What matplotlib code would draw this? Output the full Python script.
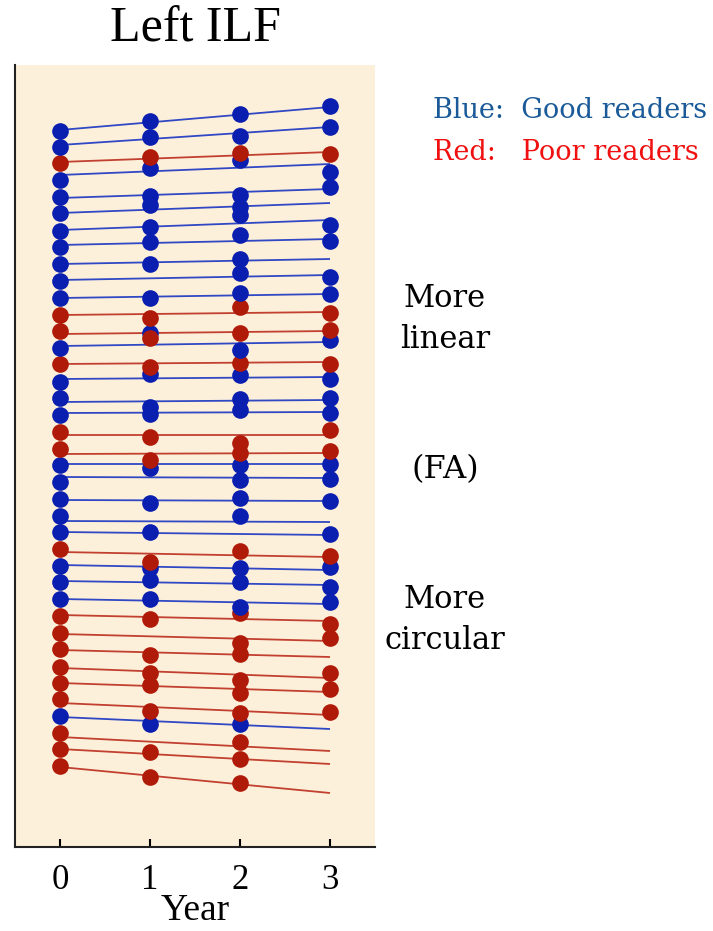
import matplotlib
matplotlib.use('Agg')
import matplotlib.pyplot as plt
import numpy as np

# ---- data (arbitrary FA units; no y ticks in source) ----
years = [0, 1, 2, 3]
year_labels = ['0', '1', '2', '3']
N = None
group = ['good', 'good', 'poor', 'good', 'good', 'good', 'good', 'good', 'good', 'good',
         'good', 'poor', 'poor', 'good', 'poor', 'good', 'good', 'good', 'poor', 'poor',
         'good', 'good', 'good', 'good', 'good', 'poor', 'good', 'good', 'good', 'poor',
         'poor', 'poor', 'poor', 'poor', 'poor', 'good', 'poor', 'poor', 'poor']
fa_year0 = [716, 700, 684, 667, 650, 634, 616, 600, 583, 566,
            549, 532, 516, 499, 483, 465, 449, 432, 415, 398,
            382, 365, 348, 331, 315, 298, 281, 265, 248, 231,
            214, 198, 180, 164, 148, 131, 114, 98, 81]
fa_year1 = [726, 710, 690, 679, 651, 642, 620, 605, 583, N,
            549, 529, 509, 514, 480, 473, 440, 433, 410, 387,
            379, N, 344, N, 315, 285, 279, 267, 248, 228,
            N, 192, 174, 162, 136, 123, N, 95, 70]
fa_year2 = [733, 711, 694, 687, 652, 640, 632, 612, 588, 574,
            554, 540, 514, 497, 484, 472, 448, 437, 404, 394,
            382, 367, 349, 331, N, 296, 279, 265, 240, 234,
            204, 193, 167, 154, 134, 123, 105, 88, 64]
fa_year3 = [741, 720, 693, 675, 660, N, 622, 606, N, 570,
            553, 534, 517, 507, 483, 468, 449, 434, 417, 396,
            383, 368, 346, N, 313, 291, 280, 260, 245, 223,
            209, N, 174, 158, 135, N, N, N, N]
fit_start = [717, 702, 685, 672, 649, 634, 617, 602, 583, 567,
             549, 532, 513, 501, 483, 468, 445, 434, 412, 393,
             383, 370, 347, 326, 315, 295, 282, 266, 248, 232,
             213, 197, 179, 164, 144, 130, 110, 98, 80]
fit_end = [740, 720, 695, 683, 658, 644, 627, 608, 588, 572,
           553, 535, 516, 505, 485, 470, 447, 435, 412, 394,
           383, 369, 346, 325, 312, 290, 277, 262, 243, 226,
           206, 190, 169, 155, 132, 118, 96, 83, 54]

dot_colors = {'good': '#0a1eb0', 'poor': '#b01a08'}
line_colors = {'good': '#3048c4', 'poor': '#c24030'}

fig = plt.figure(figsize=(7.13, 9.31), dpi=100)
ax = fig.add_axes([15 / 713, 84 / 931, 360 / 713, 782 / 931])
ax.set_facecolor('#fdf0da')

n = len(group)
vals = np.array([fa_year0, fa_year1, fa_year2, fa_year3], dtype=float).T
for i in range(n):
    g = group[i]
    ax.plot([years[0], years[-1]], [fit_start[i], fit_end[i]],
            color=line_colors[g], lw=1.3, zorder=1, solid_capstyle='butt')
    row = vals[i]
    ok = ~np.isnan(row)
    ax.plot(np.array(years)[ok], row[ok], linestyle='none', marker='o',
            markersize=12, markeredgewidth=0, color=dot_colors[g],
            zorder=3 + (n - i) / 100.0)

ax.set_xlim(-0.5, 3.5)
ax.set_ylim(0, 782)
ax.set_xticks(years)
ax.set_xticklabels(year_labels)
ax.set_yticks([])
for s in ['top', 'right']:
    ax.spines[s].set_visible(False)
for s in ['left', 'bottom']:
    ax.spines[s].set_linewidth(1.5)
    ax.spines[s].set_color('#222222')
ax.tick_params(axis='x', direction='in', length=6, width=1.5, pad=12, labelsize=25)
for lab in ax.get_xticklabels():
    lab.set_fontfamily('Liberation Serif')
ax.set_xlabel('Year', fontsize=27, fontfamily='Liberation Serif', labelpad=-2)
ax.set_title('Left ILF', fontsize=36, fontfamily='Liberation Serif', pad=17)

fig.text(433 / 713, 1 - 111 / 931, 'Blue:  Good readers', color='#1a5a98',
         fontsize=19.5, fontfamily='DejaVu Serif', va='center', ha='left')
fig.text(433 / 713, 1 - 152 / 931, 'Red:   Poor readers', color='#f01010',
         fontsize=19.5, fontfamily='DejaVu Serif', va='center', ha='left')
fig.text(445 / 713, 1 - 319 / 931, 'More\nlinear', color='black', fontsize=22,
         fontfamily='DejaVu Serif', va='center', ha='center', linespacing=1.4)
fig.text(445 / 713, 1 - 470 / 931, '(FA)', color='black', fontsize=23,
         fontfamily='DejaVu Serif', va='center', ha='center')
fig.text(445 / 713, 1 - 620 / 931, 'More\ncircular', color='black', fontsize=22,
         fontfamily='DejaVu Serif', va='center', ha='center', linespacing=1.4)

fig.savefig('out.png', dpi=100, facecolor='white')
